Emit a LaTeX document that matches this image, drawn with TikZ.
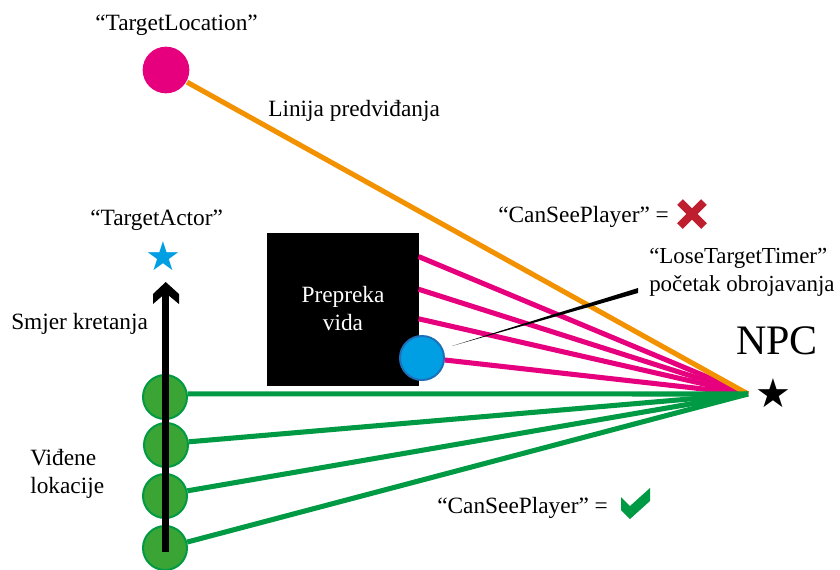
\documentclass[tikz,border=0pt]{standalone}
\usepackage{fontspec}
\setmainfont{Liberation Serif}
\definecolor{cMag}{HTML}{E6007E}
\definecolor{cOra}{HTML}{F39200}
\definecolor{cGre}{HTML}{009A44}
\definecolor{cGreF}{HTML}{3AA535}
\definecolor{cBlu}{HTML}{009FE3}
\definecolor{cBluD}{HTML}{1D71B8}
\definecolor{cRed}{HTML}{BE1E2D}
\tikzset{
  x=0.75pt,y=-0.75pt,
  txt/.style={font=\fontsize{17.5}{21}\selectfont,inner sep=0pt,anchor=west,align=left},
  spot/.style={circle,minimum size=33pt,inner sep=0pt,line width=1.5pt},
  seen/.style={spot,draw=cGre,fill=cGreF},
  ray/.style={line width=3.8pt},
}
\begin{document}
\begin{tikzpicture}
\useasboundingbox (0,0) rectangle (840,569);
\fill[white] (0,0) rectangle (840,569);
\coordinate (focus) at (748,394);
\node[draw=black,fill=black,minimum width=113pt,minimum height=114pt,inner sep=0pt] (wall) at (343,309.5) {};
\node[spot,minimum size=35pt,fill=cMag] (tloc) at (166,70) {};
\node[spot,draw=cBluD,fill=cBlu] (ball) at (422,358) {};
\node[seen] (g1) at (165,397) {};
\node[seen] (g2) at (166,445) {};
\node[seen] (g3) at (165,496) {};
\node[seen] (g4) at (165,548) {};
\draw[ray,cMag] (wall.35) -- (focus);
\draw[ray,cMag] (wall.15) -- (focus);
\draw[ray,cMag] (wall.-7) -- (focus);
\draw[ray,cMag] (ball.-5) -- (focus);
\draw[ray,cOra] (tloc.-30) -- (focus);
\draw[ray,cGre] (g1.8) -- (focus);
\draw[ray,cGre] (g2.8) -- (focus);
\draw[ray,cGre] (g3.13) -- (focus);
\draw[ray,cGre] (g4.15) -- (focus);
\coordinate (moveTip) at (165.7,290);
\coordinate (moveTail) at (165.7,552);
\draw[line width=5.2pt] (moveTail) -- (moveTip);
\fill[black] (165.7,282) -- (179,294) -- (179,304) -- (165.7,293) -- (153,304) -- (153,294) -- cycle;
\coordinate (ptA) at (452,346);
\coordinate (ptB) at (638,288);
\coordinate (ptC) at (638,293);
\fill[black] (ptA) -- (ptB) -- (ptC) -- cycle;
\node[font=\fontsize{30}{30}\selectfont,text=cBlu,inner sep=0pt] (tstar) at (163,256) {\fontspec{DejaVu Sans}★};
\node[font=\fontsize{30}{30}\selectfont,text=black,inner sep=0pt] (nstar) at (773,393) {\fontspec{DejaVu Sans}★};
\coordinate (xa) at (680,202);
\coordinate (xb) at (704,226);
\coordinate (xc) at (704,202);
\coordinate (xd) at (680,226);
\draw[cRed,line width=6pt] (xa) -- (xb) (xc) -- (xd);
\fill[cGre] (621,497) -- (630,506) -- (650,488) -- (650,501) -- (630,519) -- (621,510) -- cycle;
\node[txt] (l1) at (95,25) {“TargetLocation”};
\node[txt] (l2) at (268,111) {Linija predviđanja};
\node[txt] (l3) at (90,220) {“TargetActor”};
\node[txt] (l4) at (498,217) {“CanSeePlayer” =};
\node[txt,font=\fontsize{17.2}{21}\selectfont] (l5) at (649,272) {“LoseTargetTimer”\\početak obrojavanja};
\node[txt,anchor=center,align=center,text=white] (l6) at (343,308.5) {Prepreka\\vida};
\node[txt] (l7) at (11,324) {Smjer kretanja};
\node[txt] (l8) at (30,474) {Viđene\\lokacije};
\node[txt] (l9) at (437,508) {“CanSeePlayer” =};
\node[txt,font=\fontsize{31.5}{32}\selectfont] (l10) at (736,341) {NPC};
\end{tikzpicture}
\end{document}
